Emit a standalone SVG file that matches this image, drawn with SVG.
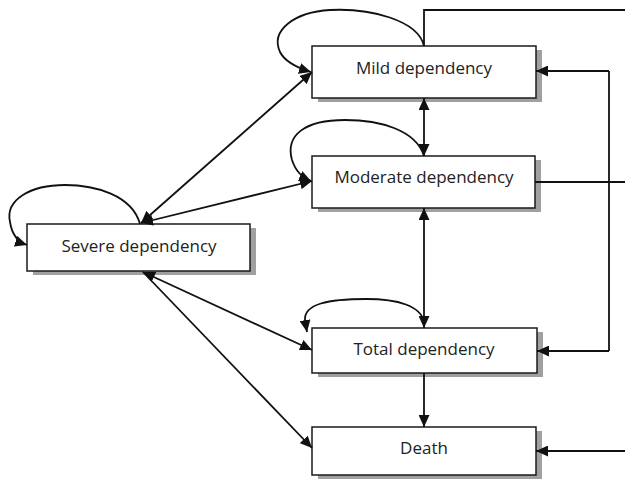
<svg xmlns="http://www.w3.org/2000/svg" width="625" height="479" viewBox="0 0 625 479">
<style>
.box{fill:#fff;stroke:#1a1a1a;stroke-width:1.5}
.sh{fill:#a0a0a0}
.lbl{font-family:"Open Sans",sans-serif;font-size:17px;fill:#222;text-anchor:middle}
.ln{fill:none;stroke:#111;stroke-width:1.8}
.a{marker-end:url(#ah)}
.aa{marker-start:url(#ah);marker-end:url(#ah)}
</style>
<defs>
<marker id="ah" markerUnits="userSpaceOnUse" markerWidth="13" markerHeight="11" refX="12" refY="5.5" orient="auto-start-reverse" viewBox="0 0 13 11">
<path d="M0,0 L12,5.5 L0,11 z" fill="#111"/>
</marker>
</defs>
<g id="mild">
<rect class="sh" x="318" y="50" width="224" height="52"/>
<rect class="box" x="312" y="46" width="224" height="52"/>
<text class="lbl" x="424" y="74">Mild dependency</text>
</g>
<g id="moderate">
<rect class="sh" x="318" y="160" width="223" height="52"/>
<rect class="box" x="312" y="156" width="223" height="52"/>
<text class="lbl" x="424" y="183">Moderate dependency</text>
</g>
<g id="severe">
<rect class="sh" x="33" y="228" width="223" height="47"/>
<rect class="box" x="27" y="224" width="223" height="47"/>
<text class="lbl" x="139" y="252">Severe dependency</text>
</g>
<g id="total">
<rect class="sh" x="318" y="332" width="225" height="45"/>
<rect class="box" x="312" y="328" width="225" height="45"/>
<text class="lbl" x="424" y="355">Total dependency</text>
</g>
<g id="death">
<rect class="sh" x="318" y="431" width="224" height="48"/>
<rect class="box" x="312" y="427" width="224" height="48"/>
<text class="lbl" x="424" y="454">Death</text>
</g>
<g id="connectors">
<path class="ln a" d="M424,46 C418,20 370,8 330,10 C295,12 270,30 280,52 C285,62 298,68 311,72"/>
<path class="ln a" d="M424,156 C416,130 380,120 345,120 C305,120 285,135 292,160 C296,172 302,177 311,181"/>
<path class="ln a" d="M140,224 C132,195 95,185 65,185 C30,185 5,200 10,222 C12,235 18,242 27,245"/>
<path class="ln a" d="M424,322 C421,306 398,299 366,299 C328,299 304,304 305,320 L307,332"/>
<path class="ln aa" d="M312,72 L141,223"/>
<path class="ln aa" d="M141,223 L312,181"/>
<path class="ln aa" d="M143,272 L312,350"/>
<path class="ln a" d="M143,272 L312,448"/>
<path class="ln aa" d="M424,98 L424,156"/>
<path class="ln aa" d="M424,208 L424,328"/>
<path class="ln a" d="M424,373 L424,427"/>
<path class="ln" d="M424,46 L424,10 L625,10"/>
<path class="ln" d="M535,182 L625,182"/>
<path class="ln" d="M609,71 L609,351"/>
<path class="ln a" d="M609,71 L536,71"/>
<path class="ln a" d="M609,351 L537,351"/>
<path class="ln a" d="M625,451 L536,451"/>
</g>
</svg>
